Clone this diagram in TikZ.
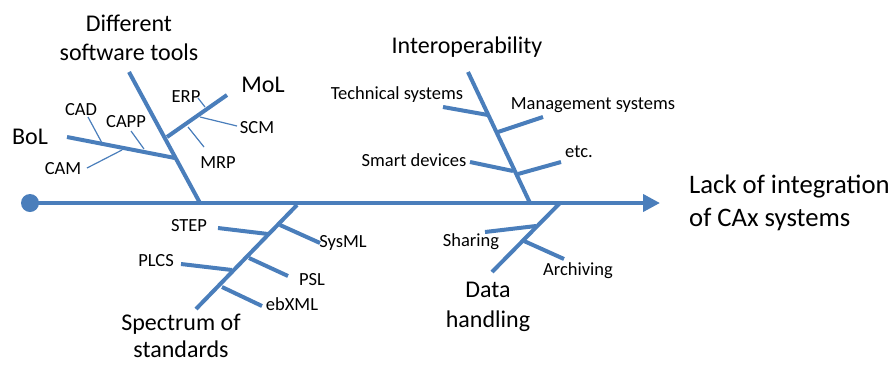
\documentclass[tikz,border=0pt]{standalone}
\usepackage{fontspec}
\setmainfont{Carlito}
\usetikzlibrary{arrows.meta}
\definecolor{fish}{RGB}{74,126,187}
\begin{document}
\begin{tikzpicture}[x=1pt,y=-1pt,
  thickline/.style={draw=fish,line width=4pt},
  thinline/.style={draw=fish,line width=1.2pt},
  small/.style={font=\fontsize{18.5}{22.5}\selectfont,inner sep=0pt},
  big/.style={font=\fontsize{24}{29.3}\selectfont,inner sep=0pt,align=center},
  bigtight/.style={font=\fontsize{24}{27.5}\selectfont,inner sep=0pt,align=center},
  huge/.style={font=\fontsize{26.7}{32.6}\selectfont,inner sep=0pt,align=left},
]
\useasboundingbox (0,0) rectangle (895,365);

% spine
\coordinate (dot) at (30,203);
\coordinate (tip) at (660,203);
\fill[fish] (dot) circle (9pt);
\draw[thickline,-{Triangle[length=17pt,width=17pt]}] (dot) -- (tip);
\node[huge,anchor=west] (effect) at (689,203) {Lack of integration\\of CAx systems};

% Different software tools
\coordinate (dA) at (129,72);
\coordinate (dB) at (200,203);
\draw[thickline] (dA) -- (dB);
\node[big] (dst) at (129,38) {Different\\software tools};
% BoL
\coordinate (bA) at (67,137);
\coordinate (bB) at (175,158);
\draw[thickline] (bA) -- (bB);
\node[big] (bol) at (30,137) {BoL};
\coordinate (cadA) at (88,117); \coordinate (cadB) at (102,143);
\coordinate (cappA) at (131,131); \coordinate (cappB) at (144,149);
\coordinate (camA) at (87,168); \coordinate (camB) at (122,150);
\draw[thinline] (cadA) -- (cadB);
\draw[thinline] (cappA) -- (cappB);
\draw[thinline] (camA) -- (camB);
\node[small] (cad) at (81,110) {CAD};
\node[small] (capp) at (126,122) {CAPP};
\node[small] (cam) at (63,169) {CAM};
% MoL
\coordinate (mA) at (167,137);
\coordinate (mB) at (227,95);
\draw[thickline] (mA) -- (mB);
\node[big] (mol) at (263,85) {MoL};
\coordinate (erpA) at (198,98); \coordinate (erpB) at (205,107);
\coordinate (scmA) at (200,117); \coordinate (scmB) at (237,126);
\coordinate (mrpA) at (188,127); \coordinate (mrpB) at (204,147);
\draw[thinline] (erpA) -- (erpB);
\draw[thinline] (scmA) -- (scmB);
\draw[thinline] (mrpA) -- (mrpB);
\node[small] (erp) at (186,97) {ERP};
\node[small] (scm) at (257,128) {SCM};
\node[small] (mrp) at (218,163) {MRP};

% Interoperability
\coordinate (iA) at (468,72);
\coordinate (iB) at (530,203);
\draw[thickline] (iA) -- (iB);
\node[big] (inter) at (467,47) {Interoperability};
\coordinate (tsA) at (443,107); \coordinate (tsB) at (488,115);
\coordinate (msA) at (498,132); \coordinate (msB) at (543,117);
\coordinate (sdA) at (470,162); \coordinate (sdB) at (513,171);
\coordinate (etA) at (518,174); \coordinate (etB) at (561,162);
\draw[thickline] (tsA) -- (tsB);
\draw[thickline] (msA) -- (msB);
\draw[thickline] (sdA) -- (sdB);
\draw[thickline] (etA) -- (etB);
\node[small] (ts) at (397,95) {Technical systems};
\node[small] (ms) at (593,105) {Management systems};
\node[small] (sd) at (414,160) {Smart devices};
\node[small] (etc) at (579,152) {etc.};

% Spectrum of standards
\coordinate (sA) at (297,205);
\coordinate (sB) at (196,309);
\draw[thickline] (sA) -- (sB);
\node[bigtight] (spec) at (181,336) {Spectrum of\\standards};
\coordinate (stepA) at (218,228); \coordinate (stepB) at (268,234);
\coordinate (sysA) at (280,225); \coordinate (sysB) at (320,243);
\coordinate (plcsA) at (181,264); \coordinate (plcsB) at (232,270);
\coordinate (pslA) at (249,258); \coordinate (pslB) at (288,276);
\coordinate (ebA) at (222,287); \coordinate (ebB) at (262,306);
\draw[thickline] (stepA) -- (stepB);
\draw[thickline] (sysA) -- (sysB);
\draw[thickline] (plcsA) -- (plcsB);
\draw[thickline] (pslA) -- (pslB);
\draw[thickline] (ebA) -- (ebB);
\node[small] (step) at (189,226) {STEP};
\node[small] (sysml) at (343,243) {SysML};
\node[small] (plcs) at (156,261) {PLCS};
\node[small] (psl) at (312,280) {PSL};
\node[small] (ebxml) at (292,304) {ebXML};

% Data handling
\coordinate (hA) at (560,203);
\coordinate (hB) at (492,272);
\draw[thickline] (hA) -- (hB);
\node[big] (data) at (488,307) {Data\\handling};
\coordinate (shA) at (485,232); \coordinate (shB) at (536,226);
\coordinate (arA) at (524,241); \coordinate (arB) at (564,259);
\draw[thickline] (shA) -- (shB);
\draw[thickline] (arA) -- (arB);
\node[small] (sharing) at (471,242) {Sharing};
\node[small] (arch) at (578,271) {Archiving};
\end{tikzpicture}
\end{document}
